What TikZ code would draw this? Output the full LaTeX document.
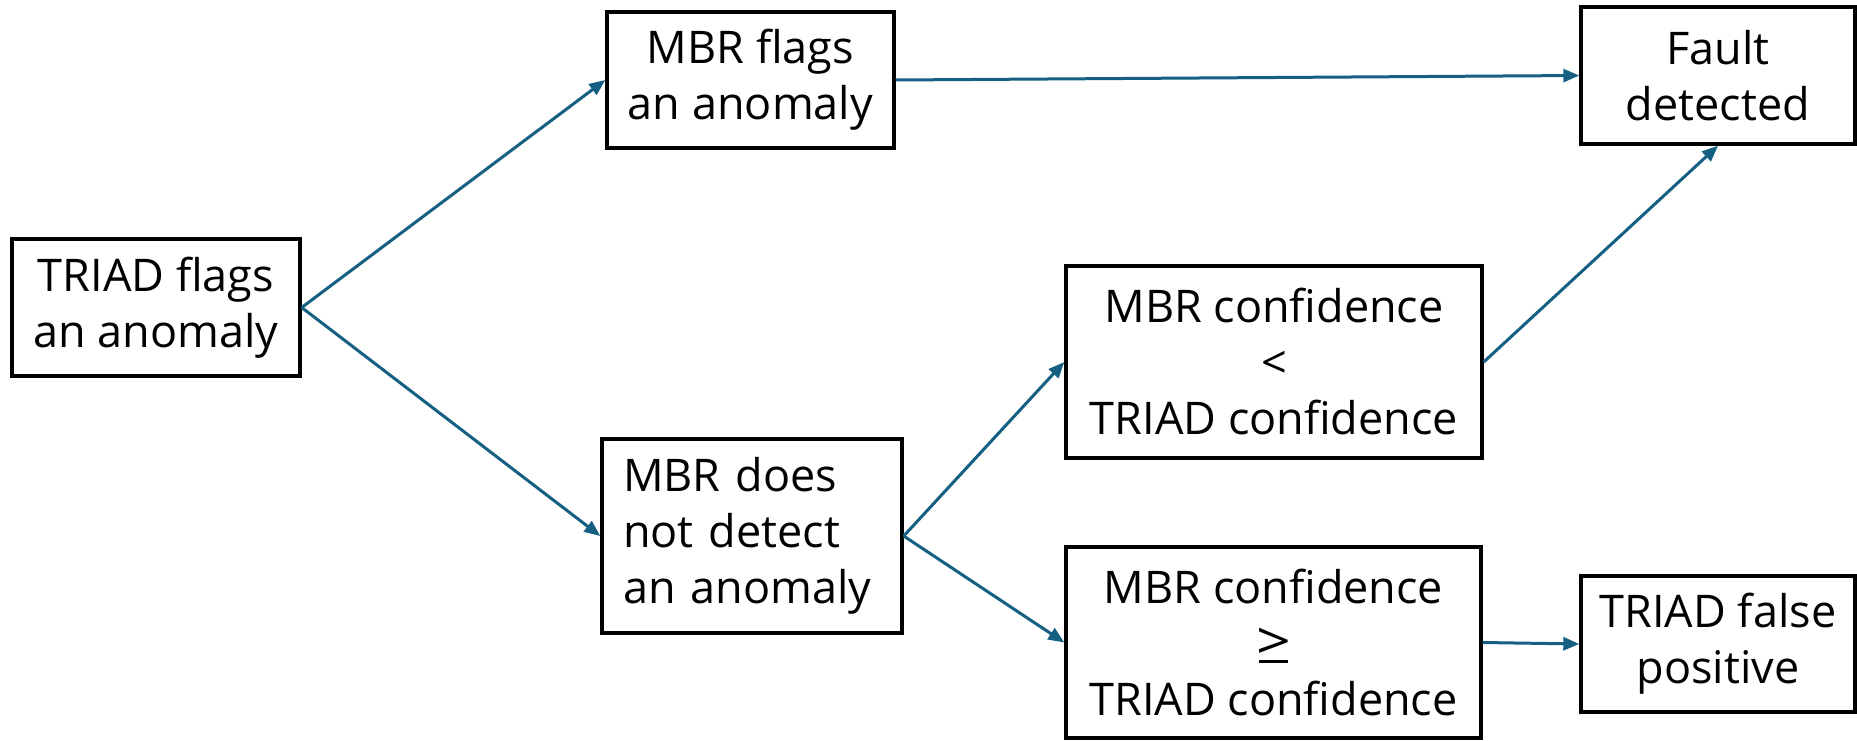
\documentclass[tikz,border=0pt]{standalone}
\usepackage{fontspec}
\usepackage{graphicx}
\setmainfont{Open Sans}
\usetikzlibrary{arrows.meta}
\definecolor{arrowblue}{HTML}{156082}
\newcommand{\mygeq}{\begingroup\setbox0\hbox{\scalebox{1.35}[1.15]{>}}\rlap{\hbox to\wd0{\hss\rule[-3pt]{29pt}{3pt}\hss}}\box0\endgroup}
\begin{document}
\begin{tikzpicture}[x=1pt,y=-1pt,
  box/.style={draw=black, line width=3.4pt, rectangle, inner sep=0pt, align=center,
    font=\fontsize{45}{56}\selectfont},
  conn/.style={draw=arrowblue, line width=3pt, -{Triangle[length=16pt,width=13pt]}}]
\useasboundingbox (0,0) rectangle (1857,741);
\node[box, minimum width=288pt, minimum height=137pt] (triad) at (156,307.5) {TRIAD flags\\an anomaly};
\node[box, minimum width=287pt, minimum height=136pt] (mbrflag) at (750.5,80) {MBR flags\\an anomaly};
\node[box, minimum width=274pt, minimum height=137pt] (fault) at (1718,75.5) {Fault\\detected};
\node[box, minimum width=416pt, minimum height=192pt] (less) at (1274,362) {MBR confidence\\<\\TRIAD confidence};
\node[box, align=left, text width=258pt, inner xsep=21pt, minimum height=194pt] (nodetect) at (752,536) {MBR does\\not detect\\an anomaly};
\node[box, minimum width=415pt, minimum height=191pt] (geq) at (1273.5,642.5) {MBR confidence\\\mygeq\\TRIAD confidence};
\node[box, minimum width=274pt, minimum height=136pt] (falsepos) at (1718,644) {TRIAD false\\positive};
\draw[conn] (triad.east) -- (mbrflag.west);
\draw[conn] (triad.east) -- (nodetect.west);
\draw[conn] (mbrflag.east) -- (fault.west);
\draw[conn] (nodetect.east) -- (less.west);
\draw[conn] (nodetect.east) -- (geq.west);
\draw[conn] (less.east) -- (fault.south);
\draw[conn] (geq.east) -- (falsepos.west);
\end{tikzpicture}
\end{document}
